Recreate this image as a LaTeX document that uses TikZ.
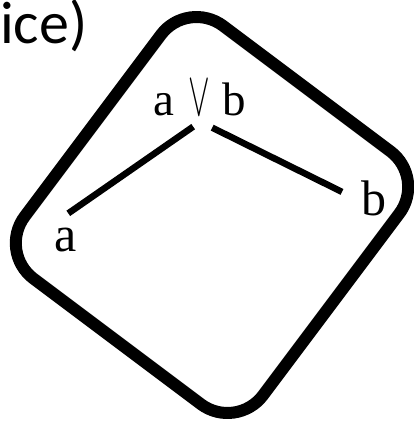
\documentclass[tikz,border=0pt]{standalone}
\usepackage{graphicx}
\usepackage{fontspec}
\setmainfont{Liberation Serif}
\newfontfamily\timesf{Liberation Serif}
\newfontfamily\calib{Carlito}
\newsavebox\veebox
\newcommand\bigveeglyph{\sbox\veebox{\normalsize$\vee$}\raisebox{6.3\dp\veebox}{\scalebox{3.24}[6.3]{\usebox\veebox}}}
\begin{document}
\begin{tikzpicture}[x=1pt,y=-1pt,
  lbl/.style={inner sep=0pt, anchor=base west, font=\timesf\fontsize{50}{50}\selectfont},
  edge/.style={line width=6.5pt},
  frame/.style={draw, line width=12pt, rounded corners=44.5pt,
    minimum width=298pt, minimum height=316pt, inner sep=0pt, rotate=-36.87}]
\useasboundingbox (0,0) rectangle (413,421);
\node[frame] (box) at (212,215) {};
\node[anchor=base west, inner sep=0pt, font=\calib\fontsize{60}{60}\selectfont] (title) at (0,43) {ice)};
\node[lbl, font=\timesf\fontsize{47}{47}\selectfont] (join) at (153.3,115)
  {a\kern14pt\bigveeglyph\kern12.8pt b};
\node[lbl] (a) at (54,251) {a};
\node[lbl] (b) at (361,215) {b};
\draw[edge] ([shift={(-6.7,11)}]join.south) -- ([shift={(3,-14)}]a.north);
\draw[edge] ([shift={(12.3,12)}]join.south) -- ([shift={(-19,-6)}]b.west);
\end{tikzpicture}
\end{document}
